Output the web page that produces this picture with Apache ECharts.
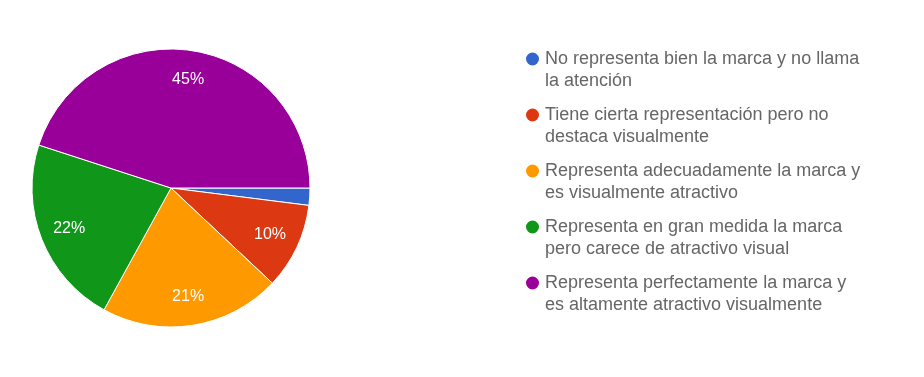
<!DOCTYPE html>
<html>
<head>
<meta charset="utf-8">
<script src="https://cdn.jsdelivr.net/npm/echarts@6/dist/echarts.min.js"></script>
<style>
  html, body { margin: 0; padding: 0; background: #ffffff; }
  #chart { width: 924px; height: 377px; }
</style>
</head>
<body>
<div id="chart"></div>
<script>
// Survey answers (line breaks mark where the legend wraps)
const categories = [
  'No representa bien la marca y no llama\nla atención',
  'Tiene cierta representación pero no\ndestaca visualmente',
  'Representa adecuadamente la marca y\nes visualmente atractivo',
  'Representa en gran medida la marca\npero carece de atractivo visual',
  'Representa perfectamente la marca y\nes altamente atractivo visualmente'
];
// Share of responses, percent
const shares = [2, 10, 21, 22, 45];
const colors = ['#3366cc', '#dc3912', '#ff9900', '#109618', '#990099'];

const LINE_H = 22;
const FONT = 'Arial, "Liberation Sans", sans-serif';

const sliceData = categories.map((name, i) => ({
  name,
  value: shares[i],
  itemStyle: { color: colors[i] }
}));

const chart = echarts.init(document.getElementById('chart'), null, { renderer: 'canvas' });

chart.setOption({
  animation: false,
  backgroundColor: '#ffffff',
  legend: {
    orient: 'vertical',
    left: 519,
    top: 21,
    icon: 'circle',
    itemWidth: 15,
    itemHeight: 15,
    itemGap: -10,
    selectedMode: false,
    // a leading empty line keeps each marker level with the first text line
    formatter: name => '\n' + name,
    textStyle: {
      fontFamily: FONT,
      fontSize: 18,
      color: '#666666',
      lineHeight: LINE_H
    }
  },
  series: [
    {
      // slices
      type: 'pie',
      center: [171, 188],
      radius: [0, 139],
      startAngle: 0,
      clockwise: true,
      avoidLabelOverlap: false,
      silent: true,
      label: { show: false },
      labelLine: { show: false },
      itemStyle: { borderColor: '#ffffff', borderWidth: 1 },
      data: sliceData
    },
    {
      // transparent ring that carries the percentage labels
      type: 'pie',
      center: [171, 188],
      radius: [74, 139],
      startAngle: 0,
      clockwise: true,
      avoidLabelOverlap: false,
      silent: true,
      itemStyle: { color: 'rgba(0,0,0,0)' },
      label: {
        show: true,
        position: 'inside',
        fontFamily: FONT,
        fontSize: 16,
        color: '#ffffff',
        formatter: p => (p.value >= 5 ? p.value + '%' : '')
      },
      labelLine: { show: false },
      data: categories.map((name, i) => ({ name, value: shares[i] }))
    }
  ]
});
</script>
</body>
</html>
